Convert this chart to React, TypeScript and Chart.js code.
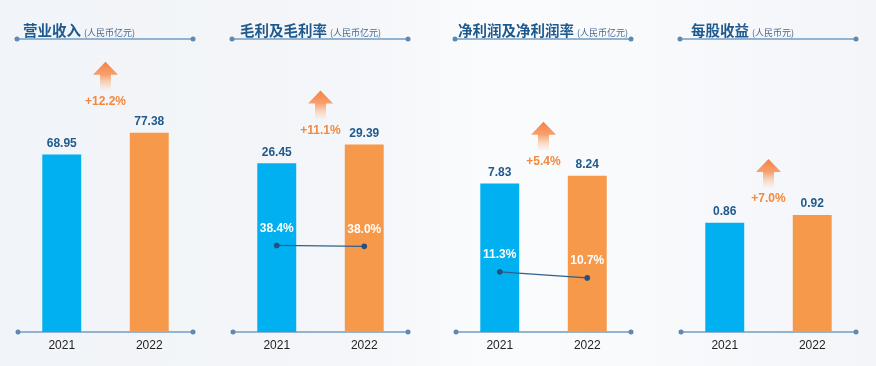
import React, { useEffect, useRef } from "react";
import { Chart, registerables } from "chart.js";
Chart.register(...registerables);

// ---- data ----
const years = ["2021", "2022"];
const revenue = [68.95, 77.38];
const grossProfit = [26.45, 29.39];
const grossMargin = [38.4, 38.0];
const netProfit = [7.83, 8.24];
const netMargin = [11.3, 10.7];
const eps = [0.86, 0.92];
const growthLabels = ["+12.2%", "+11.1%", "+5.4%", "+7.0%"];
const titles = ["营业收入", "毛利及毛利率", "净利润及净利润率", "每股收益"];
const units = ["(人民币亿元)", "(人民币亿元)", "(人民币亿元)", "(人民币元)"];

const barValues = [revenue, grossProfit, netProfit, eps];
const rateValues: (number[] | null)[] = [null, grossMargin, netMargin, null];

// ---- layout / style (per panel) ----
const panelLayout = [
  { left: 0, padL: 18, padR: 26, yMax: 109.5, rMin: 0, rMax: 125, titleDx: 5, pctGap: 31 },
  { left: 219, padL: 14, padR: 30, yMax: 44.2, rMin: 0, rMax: 125, titleDx: 7, pctGap: 14 },
  { left: 438, padL: 18, padR: 26, yMax: 14.87, rMin: 5.3, rMax: 33.4, titleDx: 2, pctGap: 14 },
  { left: 657, padL: 24, padR: 20, yMax: 2.217, rMin: 0, rMax: 10, titleDx: 10, pctGap: 16 },
];

const BLUE = "#00b0f0";
const ORANGE = "#f7994a";
const DARK = "#1f5a8e";
const LINE_C = "#93b3d2";
const DOT_C = "#5f88b2";
const NUM_FONT = "'Liberation Sans', Arial, sans-serif";
const CJK_FONT = "'Noto Sans CJK SC', sans-serif";

function drawRule(ctx: CanvasRenderingContext2D, x1: number, x2: number, y: number) {
  ctx.save();
  ctx.strokeStyle = LINE_C;
  ctx.lineWidth = 2;
  ctx.beginPath();
  ctx.moveTo(x1, y);
  ctx.lineTo(x2, y);
  ctx.stroke();
  ctx.fillStyle = DOT_C;
  for (const x of [x1, x2]) {
    ctx.beginPath();
    ctx.arc(x, y, 2.5, 0, Math.PI * 2);
    ctx.fill();
  }
  ctx.restore();
}

function makePlugin(idx: number) {
  const cfg = panelLayout[idx];
  return {
    id: "panelDeco" + idx,
    beforeDatasetsDraw(chart: any) {
      const { ctx, chartArea } = chart;
      drawRule(ctx, chartArea.left, chartArea.right, chartArea.bottom);
    },
    afterDatasetsDraw(chart: any) {
      const { ctx, chartArea } = chart;
      const barMeta = chart.getDatasetMeta(0);
      ctx.save();
      // value labels
      ctx.font = "bold 12px " + NUM_FONT;
      ctx.fillStyle = DARK;
      ctx.textAlign = "center";
      ctx.textBaseline = "middle";
      barMeta.data.forEach((el: any, i: number) => {
        const v = chart.data.datasets[0].data[i] as number;
        ctx.fillText(v.toFixed(2), el.x, el.y - 11);
      });
      // rate labels
      if (chart.data.datasets.length > 1) {
        const lm = chart.getDatasetMeta(1);
        ctx.fillStyle = "#ffffff";
        ctx.font = "bold 12px " + NUM_FONT;
        lm.data.forEach((el: any, i: number) => {
          const v = chart.data.datasets[1].data[i] as number;
          ctx.fillText(v.toFixed(1) + "%", el.x, el.y - 17);
        });
      }
      // growth label + arrow
      const topY = Math.min(...barMeta.data.map((e: any) => e.y));
      const cx = (chartArea.left + chartArea.right) / 2;
      const pctY = topY - cfg.pctGap;
      ctx.fillStyle = "#f5883c";
      ctx.fillText(growthLabels[idx], cx, pctY);
      const tip = pctY - 40;
      const g = ctx.createLinearGradient(0, tip, 0, tip + 29);
      g.addColorStop(0, "#f7803f");
      g.addColorStop(0.45, "rgba(248,145,85,0.85)");
      g.addColorStop(1, "rgba(250,200,160,0.05)");
      ctx.fillStyle = g;
      ctx.beginPath();
      ctx.moveTo(cx, tip);
      ctx.lineTo(cx + 12.5, tip + 13);
      ctx.lineTo(cx + 5.5, tip + 13);
      ctx.lineTo(cx + 5.5, tip + 29);
      ctx.lineTo(cx - 5.5, tip + 29);
      ctx.lineTo(cx - 5.5, tip + 13);
      ctx.lineTo(cx - 12.5, tip + 13);
      ctx.closePath();
      ctx.fill();
      ctx.restore();
    },
    afterDraw(chart: any) {
      const { ctx, chartArea } = chart;
      drawRule(ctx, chartArea.left - 1, chartArea.right, 39);
      ctx.save();
      ctx.textBaseline = "alphabetic";
      ctx.textAlign = "left";
      ctx.fillStyle = DARK;
      ctx.font = "bold 14.5px " + CJK_FONT;
      const tx = chartArea.left + cfg.titleDx;
      ctx.fillText(titles[idx], tx, 36);
      const w = ctx.measureText(titles[idx]).width;
      ctx.font = "9px " + CJK_FONT;
      ctx.fillStyle = "#46698f";
      ctx.fillText(units[idx], tx + w + 3, 36);
      ctx.restore();
    },
  };
}

function Panel({ idx }: { idx: number }) {
  const ref = useRef<HTMLCanvasElement>(null);
  useEffect(() => {
    const cfg = panelLayout[idx];
    const datasets: any[] = [
      {
        type: "bar",
        data: barValues[idx],
        backgroundColor: [BLUE, ORANGE],
        barPercentage: 0.445,
        categoryPercentage: 1,
        order: 1,
        yAxisID: "y",
      },
    ];
    const rates = rateValues[idx];
    if (rates) {
      datasets.push({
        type: "line",
        data: rates,
        borderColor: "#2e5f8f",
        borderWidth: 1.2,
        pointRadius: 2.8,
        pointBackgroundColor: "#24507c",
        pointBorderWidth: 0,
        order: 0,
        yAxisID: "y2",
      });
    }
    const chart = new Chart(ref.current as HTMLCanvasElement, {
      type: "bar",
      data: { labels: years, datasets },
      options: {
        animation: false,
        responsive: false,
        maintainAspectRatio: false,
        layout: { padding: { left: cfg.padL, right: cfg.padR, top: 50, bottom: 7.5 } },
        plugins: { legend: { display: false }, tooltip: { enabled: false } },
        scales: {
          x: {
            grid: { display: false, drawTicks: false },
            border: { display: false },
            ticks: { padding: 6, color: "#222", font: { size: 12, family: NUM_FONT } },
          },
          y: { display: false, min: 0, max: cfg.yMax },
          y2: { display: false, min: cfg.rMin, max: cfg.rMax },
        },
      },
      plugins: [makePlugin(idx)],
    } as any);
    return () => chart.destroy();
  }, [idx]);
  const cfg = panelLayout[idx];
  return (
    <canvas
      ref={ref}
      width={219}
      height={366}
      style={{ position: "absolute", left: cfg.left, top: 0, width: 219, height: 366 }}
    />
  );
}

export default function App() {
  return (
    <div
      style={{
        position: "fixed",
        left: 0,
        top: 0,
        width: 876,
        height: 366,
        overflow: "hidden",
        background:
          "linear-gradient(90deg, #f1f4f8 0%, #f4f6f9 40%, #fafbfd 55%, #f9fafc 72%, #f3f5f9 100%)",
      }}
    >
      {[0, 1, 2, 3].map((i) => (
        <Panel key={i} idx={i} />
      ))}
    </div>
  );
}
